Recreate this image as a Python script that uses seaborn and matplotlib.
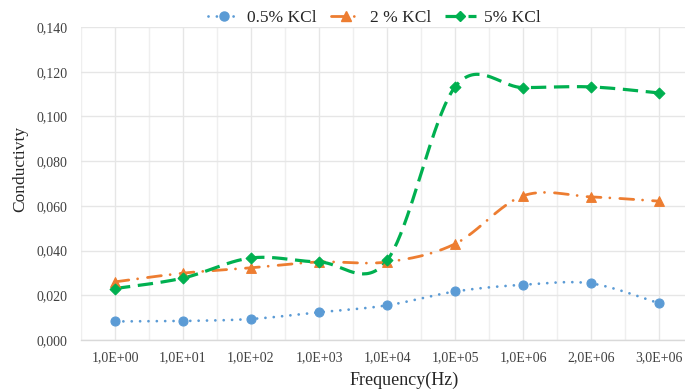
import numpy as np
import pandas as pd
import matplotlib
matplotlib.use("Agg")
import matplotlib.pyplot as plt
from matplotlib.lines import Line2D
import seaborn as sns

categories = ["1,0E+00", "1,0E+01", "1,0E+02", "1,0E+03", "1,0E+04",
              "1,0E+05", "1,0E+06", "2,0E+06", "3,0E+06"]
kcl_05 = [0.0083, 0.0085, 0.0094, 0.0124, 0.0155, 0.0217, 0.0247, 0.0253, 0.0164]
kcl_2 = [0.0260, 0.0299, 0.0323, 0.0349, 0.0349, 0.0430, 0.0645, 0.0640, 0.0621]
kcl_5 = [0.0230, 0.0277, 0.0367, 0.0349, 0.0356, 0.1132, 0.1129, 0.1132, 0.1105]
series_names = ["0.5% KCl", "2 % KCl", "5% KCl"]
y_ticks = [0.0, 0.02, 0.04, 0.06, 0.08, 0.10, 0.12, 0.14]

colors = ["#5B9BD5", "#ED7D31", "#00B050"]
markers = ["o", "^", "D"]
msizes = [6.5, 7, 5.5]
lws = [2.0, 2.0, 2.3]
styles = [(0, (0.01, 3.0)), (0, (5.0, 3.2, 0.01, 3.6)), (0, (4.8, 2.4))]
caps = ["round", "round", "butt"]


def smooth(y, n=40):
    x = np.arange(len(y), dtype=float)
    y = np.asarray(y, dtype=float)
    px, py = [], []
    for i in range(len(y) - 1):
        i0 = max(i - 1, 0)
        i3 = min(i + 2, len(y) - 1)
        c1x = x[i] + (x[i + 1] - x[i0]) / 6
        c1y = y[i] + (y[i + 1] - y[i0]) / 6
        c2x = x[i + 1] - (x[i3] - x[i]) / 6
        c2y = y[i + 1] - (y[i3] - y[i]) / 6
        t = np.linspace(0, 1, n, endpoint=(i == len(y) - 2))
        b0, b1, b2, b3 = (1 - t) ** 3, 3 * (1 - t) ** 2 * t, 3 * (1 - t) * t ** 2, t ** 3
        px.append(b0 * x[i] + b1 * c1x + b2 * c2x + b3 * x[i + 1])
        py.append(b0 * y[i] + b1 * c1y + b2 * c2y + b3 * y[i + 1])
    return np.concatenate(px), np.concatenate(py)


sns.set_theme(style="white")
plt.rcParams["font.family"] = ["Liberation Serif", "DejaVu Serif"]

fig = plt.figure(figsize=(6.85, 3.9), dpi=100)
ax = fig.add_axes([81 / 685, 1 - 340 / 390, 1 - 81 / 685, (340 - 27) / 390])

handles = []
for vals, name, c, m, ms, lw, ls, cap in zip([kcl_05, kcl_2, kcl_5], series_names, colors,
                                             markers, msizes, lws, styles, caps):
    sx, sy = smooth(vals)
    dfs = pd.DataFrame({"x": sx, "y": sy})
    sns.lineplot(data=dfs, x="x", y="y", ax=ax, sort=False, estimator=None,
                 color=c, linewidth=lw, linestyle=ls, dash_capstyle=cap, zorder=3)
    dfp = pd.DataFrame({"x": np.arange(len(vals)), "y": vals})
    sns.scatterplot(data=dfp, x="x", y="y", ax=ax, color=c, marker=m,
                    s=ms ** 2, edgecolor=c, linewidth=0.8, zorder=4)
    handles.append(Line2D([0], [0], color=c, lw=lw, linestyle=ls, dash_capstyle=cap,
                          marker=m, markersize=ms, markeredgecolor=c, label=name))

ax.set_xlim(-0.5, 8.38)
ax.set_ylim(0, 0.14)
ax.set_yticks(y_ticks)
ax.set_yticklabels([f"{v:.3f}".replace(".", ",") for v in y_ticks])
ax.set_xticks(np.arange(len(categories)))
ax.set_xticklabels(categories)
ax.set_xticks(np.arange(-0.5, 8.5, 1.0), minor=True)

ax.grid(True, which="major", axis="both", color="#E6E6E6", linewidth=1.0, zorder=0)
ax.grid(True, which="minor", axis="x", color="#EFEFEF", linewidth=1.0, zorder=0)
for s in ["top", "right", "left"]:
    ax.spines[s].set_visible(False)
ax.spines["bottom"].set_color("#D9D9D9")
ax.spines["bottom"].set_linewidth(1.0)
ax.tick_params(axis="both", which="both", length=0, labelsize=10, colors="#404040", pad=8)
ax.tick_params(axis="y", pad=9.5)

ax.set_xlabel("Frequency(Hz)", fontsize=13, color="#262626")
ax.xaxis.set_label_coords(0.535, -0.102)
ax.set_ylabel("Conductivty", fontsize=12.5, color="#262626")
ax.yaxis.set_label_coords(-0.088, 0.546)

leg = fig.legend(handles=handles, loc="center left", bbox_to_anchor=(208 / 685, 1 - 18 / 390),
                 ncol=3, frameon=False, fontsize=12.5, handlelength=1.8,
                 columnspacing=0.8, handletextpad=0.45, borderaxespad=0, borderpad=0)
for t in leg.get_texts():
    t.set_color("#262626")

fig.savefig("out.png", dpi=100)
